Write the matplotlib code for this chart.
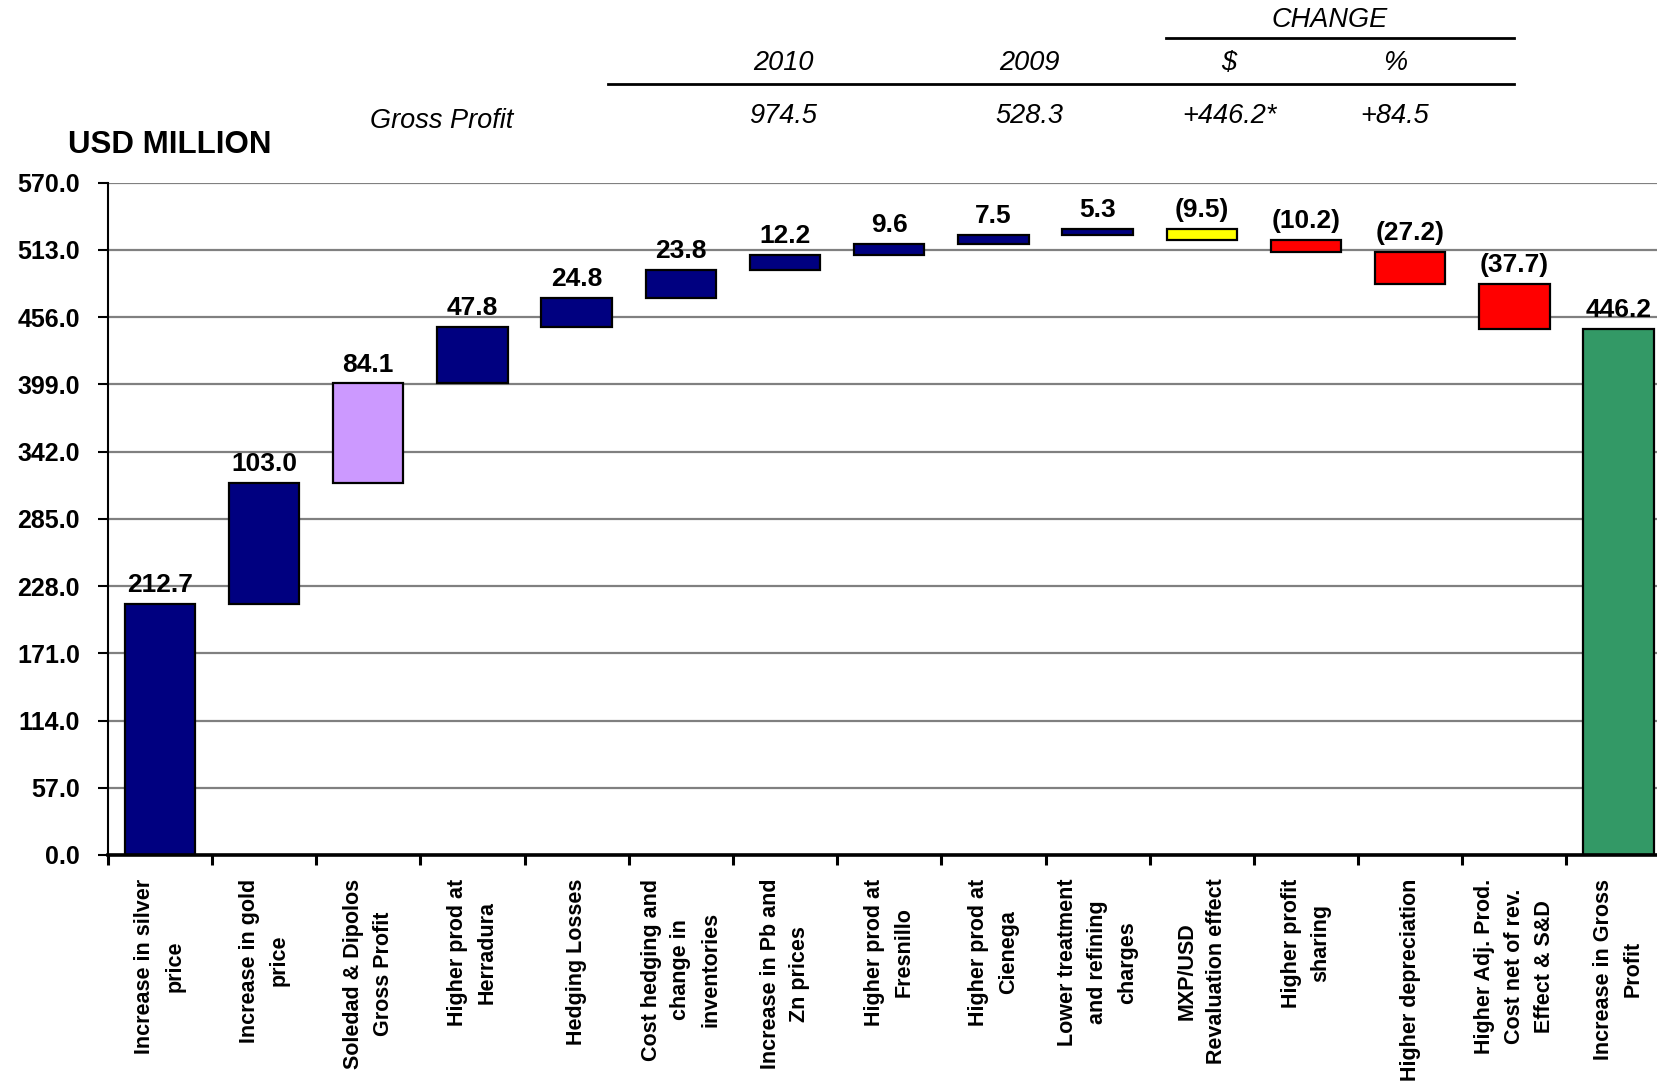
import matplotlib
matplotlib.use('Agg')
import matplotlib.pyplot as plt
from matplotlib.lines import Line2D
import numpy as np

plt.rcParams['font.family'] = ['Liberation Sans', 'DejaVu Sans']

# Data
categories = ['Increase in silver\nprice', 'Increase in gold\nprice', 'Soledad & Dipolos\nGross Profit',
              'Higher prod at\nHerradura', 'Hedging Losses', 'Cost hedging and\nchange in\ninventories',
              'Increase in Pb and\nZn prices', 'Higher prod at\nFresnillo', 'Higher prod at\nCienega',
              'Lower treatment\nand refining\ncharges', 'MXP/USD\nRevaluation effect', 'Higher profit\nsharing',
              'Higher depreciation', 'Higher Adj. Prod.\nCost net of rev.\nEffect & S&D', 'Increase in Gross\nProfit']
changes = [212.7, 103.0, 84.1, 47.8, 24.8, 23.8, 12.2, 9.6, 7.5, 5.3, -9.5, -10.2, -27.2, -37.7]
total = 446.2
y_ticks = [0.0, 57.0, 114.0, 171.0, 228.0, 285.0, 342.0, 399.0, 456.0, 513.0, 570.0]

header_cols = ['2010', '2009', '$', '%']
header_vals = ['974.5', '528.3', '+446.2*', '+84.5']

bar_colors = ['#000080', '#000080', '#CC99FF', '#000080', '#000080', '#000080', '#000080',
              '#000080', '#000080', '#000080', '#FFFF00', '#FF0000', '#FF0000', '#FF0000', '#339966']

W, H = 1657, 1090
fig = plt.figure(figsize=(W / 100, H / 100), dpi=100)
slot = 104.2
ax = fig.add_axes([107.7 / W, 1 - 855 / H, 15 * slot / W, (855 - 182.7) / H])

# waterfall geometry
prev = 0.0
bottoms, heights, label_y, label_txt = [], [], [], []
for d in changes:
    new = prev + d
    bottoms.append(min(prev, new))
    heights.append(abs(d))
    label_y.append(max(prev, new))
    label_txt.append(f'{d:.1f}' if d >= 0 else f'({abs(d):.1f})')
    prev = new
bottoms.append(0.0)
heights.append(total)
label_y.append(total)
label_txt.append(f'{total:.1f}')

x = np.arange(len(categories))
ax.bar(x, heights, bottom=bottoms, width=0.675, color=bar_colors, edgecolor='black',
       linewidth=1.6, zorder=3)
for xi, yv, t in zip(x, label_y, label_txt):
    ax.annotate(t, (xi, yv), xytext=(0, 5), textcoords='offset points', ha='center', va='bottom',
                fontsize=19, fontweight='bold', zorder=4)

ax.set_xlim(-0.5, len(categories) - 0.5)
ax.set_ylim(0, 570)
ax.set_yticks(y_ticks)
ax.set_yticklabels([f'{v:.1f}' for v in y_ticks], fontsize=18, fontweight='bold')
ax.tick_params(axis='y', direction='out', length=7, width=1.5, pad=13)
ax.yaxis.grid(True, color='#808080', linewidth=1.6, zorder=0)
ax.set_axisbelow(True)

# category boundaries as tick marks, labels centred under bars
ax.set_xticks(np.arange(-0.5, len(categories), 1.0))
ax.set_xticklabels([])
ax.tick_params(axis='x', which='major', direction='out', length=7, width=2.2)
ax.set_xticks(x, minor=True)
ax.set_xticklabels(categories, minor=True, rotation=90, fontsize=15.5, fontweight='bold',
                   va='top', ha='center', multialignment='center', linespacing=1.55)
ax.tick_params(axis='x', which='minor', length=0, pad=17)

for s in ['top', 'right']:
    ax.spines[s].set_visible(False)
ax.spines['left'].set_linewidth(1.5)
ax.spines['bottom'].set_linewidth(2.6)
ax.spines['bottom'].set_zorder(5)

# header table
col_x = [783, 1029, 1229, 1395]
for cx, c, v in zip(col_x, header_cols, header_vals):
    fig.text(cx / W, 1 - 63 / H, c, fontsize=19.5, style='italic', ha='center', va='center')
    fig.text(cx / W, 1 - 116 / H, v, fontsize=19.5, style='italic', ha='center', va='center')
fig.text(1330 / W, 1 - 20 / H, 'CHANGE', fontsize=19.5, style='italic', ha='center', va='center')
fig.text(442 / W, 1 - 121 / H, 'Gross Profit', fontsize=19.5, style='italic', ha='center', va='center')
fig.text(68 / W, 1 - 145 / H, 'USD MILLION', fontsize=22.5, fontweight='bold', ha='left', va='center')

fig.add_artist(Line2D([1166 / W, 1514 / W], [1 - 38 / H, 1 - 38 / H], color='black', linewidth=2))
fig.add_artist(Line2D([608 / W, 1514 / W], [1 - 84 / H, 1 - 84 / H], color='black', linewidth=2))

plt.savefig('out.png', dpi=100)
